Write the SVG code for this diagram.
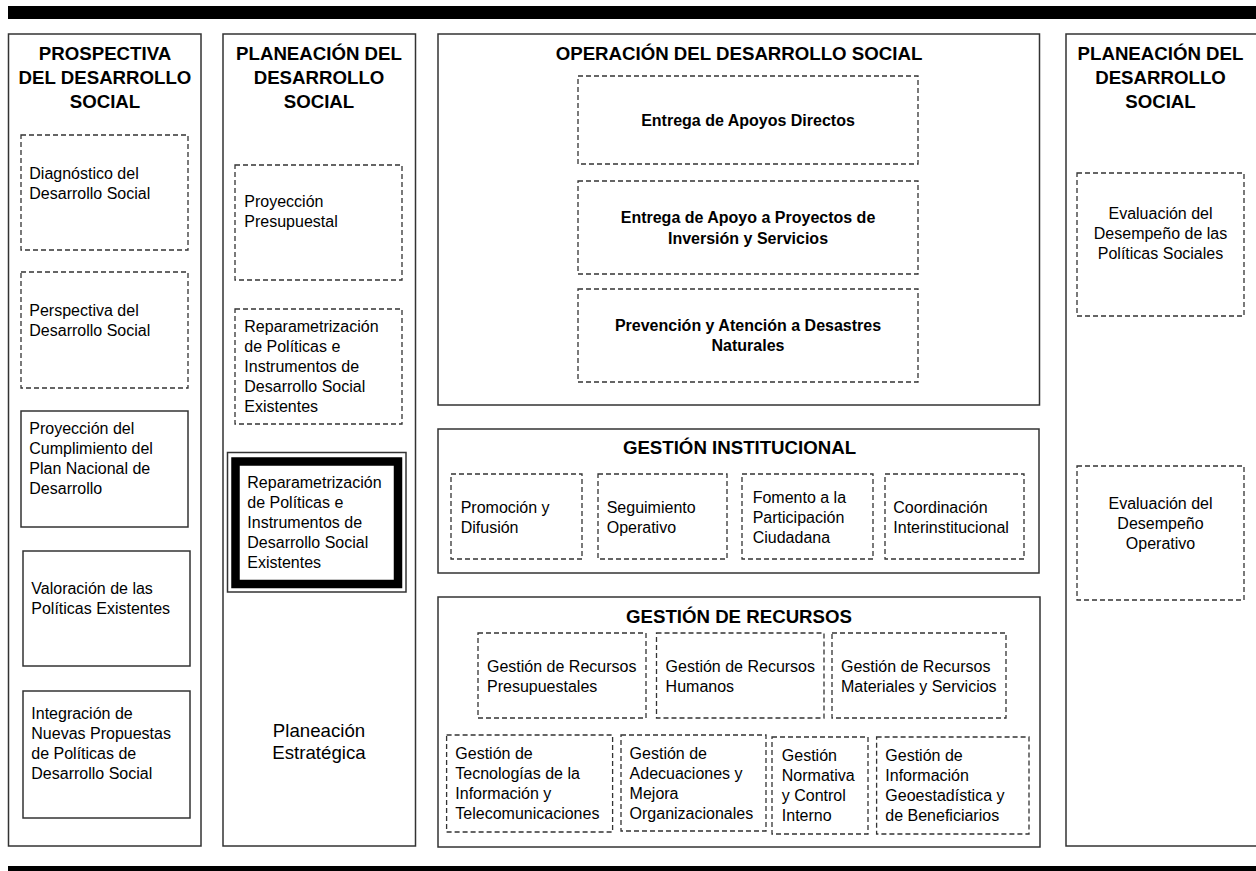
<svg xmlns="http://www.w3.org/2000/svg" width="1256" height="871" viewBox="0 0 1256 871">
<style>
.solid{fill:none;stroke:#333;stroke-width:1.5}
.dash{fill:none;stroke:#333;stroke-width:1.3;stroke-dasharray:5 3}
text{font-family:"Liberation Sans",Arial,Helvetica,sans-serif;font-size:16px;fill:#000}
.h{font-weight:bold;font-size:18.67px;text-anchor:middle}
.b{font-weight:bold;text-anchor:middle}
.c{text-anchor:middle}
.big{font-size:18.67px;text-anchor:middle}
</style>
<rect x="0" y="0" width="1256" height="871" fill="#fff"/>
<g id="bars">
<rect x="8" y="6" width="1248" height="13" fill="#000"/>
<rect x="8" y="866" width="1248" height="5" fill="#000"/>
</g>
<g id="col-prospectiva">
<rect class="solid" x="8.5" y="34" width="192.5" height="812"/>
<text class="h" x="105" y="60">PROSPECTIVA</text>
<text class="h" x="105" y="84">DEL DESARROLLO</text>
<text class="h" x="105" y="108">SOCIAL</text>
</g>
<g id="diagnostico">
<rect class="dash" x="21" y="135" width="167" height="115"/>
<text x="29.3" y="179">Diagnóstico del</text>
<text x="29.3" y="199">Desarrollo Social</text>
</g>
<g id="perspectiva">
<rect class="dash" x="21" y="272" width="167" height="116"/>
<text x="29.3" y="316">Perspectiva del</text>
<text x="29.3" y="336">Desarrollo Social</text>
</g>
<g id="proyeccion-cumplimiento">
<rect class="solid" x="21" y="411" width="167" height="116"/>
<text x="29.3" y="434">Proyección del</text>
<text x="29.3" y="454">Cumplimiento del</text>
<text x="29.3" y="474">Plan Nacional de</text>
<text x="29.3" y="494">Desarrollo</text>
</g>
<g id="valoracion">
<rect class="solid" x="23" y="551" width="167" height="115"/>
<text x="31.3" y="593.5">Valoración de las</text>
<text x="31.3" y="613.5">Políticas Existentes</text>
</g>
<g id="integracion">
<rect class="solid" x="23" y="691" width="167" height="127"/>
<text x="31.3" y="719">Integración de</text>
<text x="31.3" y="739">Nuevas Propuestas</text>
<text x="31.3" y="759">de Políticas de</text>
<text x="31.3" y="779">Desarrollo Social</text>
</g>
<g id="col-planeacion">
<rect class="solid" x="223" y="34" width="192.5" height="812"/>
<text class="h" x="319" y="60">PLANEACIÓN DEL</text>
<text class="h" x="319" y="84">DESARROLLO</text>
<text class="h" x="319" y="108">SOCIAL</text>
<text class="big" x="319" y="736.7">Planeación</text>
<text class="big" x="319" y="759.3">Estratégica</text>
</g>
<g id="proyeccion-presupuestal">
<rect class="dash" x="235" y="165" width="167" height="115"/>
<text x="244.3" y="207">Proyección</text>
<text x="244.3" y="227">Presupuestal</text>
</g>
<g id="reparametrizacion-1">
<rect class="dash" x="235" y="309" width="167" height="115"/>
<text x="244.3" y="332">Reparametrización</text>
<text x="244.3" y="352">de Políticas e</text>
<text x="244.3" y="372">Instrumentos de</text>
<text x="244.3" y="392">Desarrollo Social</text>
<text x="244.3" y="412">Existentes</text>
</g>
<g id="reparametrizacion-2">
<rect class="solid" x="227.5" y="452.5" width="178.5" height="139.5"/>
<rect x="235.5" y="461.5" width="162.5" height="122.5" fill="none" stroke="#000" stroke-width="8.5"/>
<text x="247.3" y="488">Reparametrización</text>
<text x="247.3" y="508">de Políticas e</text>
<text x="247.3" y="528">Instrumentos de</text>
<text x="247.3" y="548">Desarrollo Social</text>
<text x="247.3" y="568">Existentes</text>
</g>
<g id="operacion">
<rect class="solid" x="438" y="34" width="601.5" height="371"/>
<text class="h" x="739" y="60">OPERACIÓN DEL DESARROLLO SOCIAL</text>
</g>
<g id="apoyos-directos">
<rect class="dash" x="578" y="76" width="340" height="88"/>
<text class="b" x="748" y="126">Entrega de Apoyos Directos</text>
</g>
<g id="apoyo-proyectos">
<rect class="dash" x="578" y="181" width="340" height="93"/>
<text class="b" x="748" y="223.3">Entrega de Apoyo a Proyectos de</text>
<text class="b" x="748" y="244">Inversión y Servicios</text>
</g>
<g id="desastres">
<rect class="dash" x="578" y="289" width="340" height="93"/>
<text class="b" x="748" y="331">Prevención y Atención a Desastres</text>
<text class="b" x="748" y="351">Naturales</text>
</g>
<g id="gestion-institucional">
<rect class="solid" x="438" y="429" width="601" height="144"/>
<text class="h" x="739.5" y="454.3">GESTIÓN INSTITUCIONAL</text>
</g>
<g id="promocion">
<rect class="dash" x="451" y="474" width="131" height="85"/>
<text x="460.7" y="512.7">Promoción y</text>
<text x="460.7" y="532.7">Difusión</text>
</g>
<g id="seguimiento">
<rect class="dash" x="598" y="474" width="129" height="85"/>
<text x="606.7" y="512.7">Seguimiento</text>
<text x="606.7" y="532.7">Operativo</text>
</g>
<g id="fomento">
<rect class="dash" x="742" y="474" width="131" height="85"/>
<text x="752.7" y="502.7">Fomento a la</text>
<text x="752.7" y="522.7">Participación</text>
<text x="752.7" y="542.7">Ciudadana</text>
</g>
<g id="coordinacion">
<rect class="dash" x="885" y="474" width="139" height="85"/>
<text x="893.3" y="512.7">Coordinación</text>
<text x="893.3" y="532.7">Interinstitucional</text>
</g>
<g id="gestion-recursos">
<rect class="solid" x="438" y="597" width="602" height="250"/>
<text class="h" x="739" y="623.3">GESTIÓN DE RECURSOS</text>
</g>
<g id="rec-presupuestales">
<rect class="dash" x="478" y="633" width="168" height="85"/>
<text x="487" y="671.7">Gestión de Recursos</text>
<text x="487" y="691.7">Presupuestales</text>
</g>
<g id="rec-humanos">
<rect class="dash" x="656.5" y="633" width="167.5" height="85"/>
<text x="665.6" y="671.7">Gestión de Recursos</text>
<text x="665.6" y="691.7">Humanos</text>
</g>
<g id="rec-materiales">
<rect class="dash" x="832" y="633" width="174" height="85"/>
<text x="841" y="671.7">Gestión de Recursos</text>
<text x="841" y="691.7">Materiales y Servicios</text>
</g>
<g id="rec-tic">
<rect class="dash" x="446.6" y="735" width="166" height="97"/>
<text x="455.3" y="759.3">Gestión de</text>
<text x="455.3" y="779.3">Tecnologías de la</text>
<text x="455.3" y="799.3">Información y</text>
<text x="455.3" y="819.3">Telecomunicaciones</text>
</g>
<g id="rec-adecuaciones">
<rect class="dash" x="621" y="735" width="145" height="96"/>
<text x="629.6" y="759.3">Gestión de</text>
<text x="629.6" y="779.3">Adecuaciones y</text>
<text x="629.6" y="799.3">Mejora</text>
<text x="629.6" y="819.3">Organizacionales</text>
</g>
<g id="rec-normativa">
<rect class="dash" x="772" y="737" width="96" height="97"/>
<text x="781.8" y="761">Gestión</text>
<text x="781.8" y="781">Normativa</text>
<text x="781.8" y="801">y Control</text>
<text x="781.8" y="821">Interno</text>
</g>
<g id="rec-geo">
<rect class="dash" x="876.6" y="737" width="152.4" height="97"/>
<text x="885.3" y="761">Gestión de</text>
<text x="885.3" y="781">Información</text>
<text x="885.3" y="801">Geoestadística y</text>
<text x="885.3" y="821">de Beneficiarios</text>
</g>
<g id="col-evaluacion">
<rect class="solid" x="1066" y="34" width="200" height="812"/>
<text class="h" x="1160.5" y="60">PLANEACIÓN DEL</text>
<text class="h" x="1160.5" y="84">DESARROLLO</text>
<text class="h" x="1160.5" y="108">SOCIAL</text>
</g>
<g id="eval-politicas">
<rect class="dash" x="1077" y="173" width="167" height="143"/>
<text class="c" x="1160.5" y="219">Evaluación del</text>
<text class="c" x="1160.5" y="239">Desempeño de las</text>
<text class="c" x="1160.5" y="259">Políticas Sociales</text>
</g>
<g id="eval-operativo">
<rect class="dash" x="1077" y="466" width="167" height="134"/>
<text class="c" x="1160.5" y="509">Evaluación del</text>
<text class="c" x="1160.5" y="529">Desempeño</text>
<text class="c" x="1160.5" y="549">Operativo</text>
</g>
<g id="connectors"/>
</svg>
